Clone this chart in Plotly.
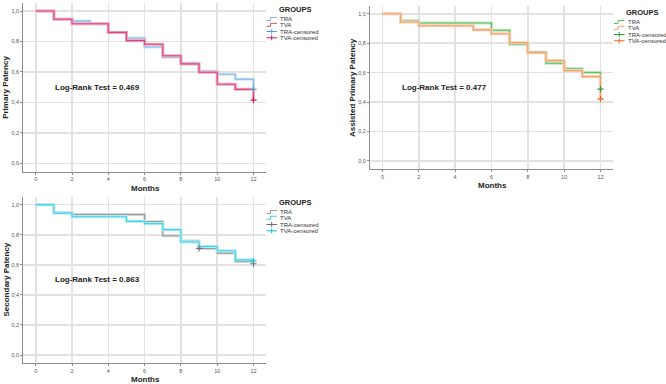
import plotly.graph_objects as go

W, H = 666, 384

months = list(range(13))
tick_months = [0, 2, 4, 6, 8, 10, 12]
tick_y = [0.0, 0.2, 0.4, 0.6, 0.8, 1.0]

# Panel 1: Primary patency
p1_tra = [1.0, 0.950, 0.934, 0.917, 0.857, 0.823, 0.764, 0.697, 0.659, 0.604, 0.585, 0.553, 0.486]
p1_tva = [1.0, 0.946, 0.917, 0.917, 0.860, 0.806, 0.782, 0.707, 0.653, 0.598, 0.519, 0.486, 0.415]
p1_tra_cens_x, p1_tra_cens_y = [12], [0.486]
p1_tva_cens_x, p1_tva_cens_y = [12], [0.415]

# Panel 2: Assisted primary patency
p2_tra = [1.0, 0.953, 0.937, 0.937, 0.937, 0.937, 0.888, 0.793, 0.741, 0.664, 0.626, 0.601, 0.488]
p2_tva = [1.0, 0.944, 0.919, 0.919, 0.919, 0.891, 0.864, 0.804, 0.736, 0.682, 0.614, 0.573, 0.420]
p2_tra_cens_x, p2_tra_cens_y = [12], [0.488]
p2_tva_cens_x, p2_tva_cens_y = [12], [0.420]

# Panel 3: Secondary patency
p3_tra = [1.0, 0.948, 0.935, 0.935, 0.935, 0.935, 0.887, 0.793, 0.758, 0.709, 0.678, 0.622, 0.607]
p3_tva = [1.0, 0.944, 0.920, 0.920, 0.920, 0.889, 0.874, 0.834, 0.752, 0.722, 0.694, 0.633, 0.625]
p3_tra_cens_x, p3_tra_cens_y = [9, 12], [0.709, 0.607]
p3_tva_cens_x, p3_tva_cens_y = [12], [0.625]

y_titles = ["Primary Patency", "Assisted Primary Patency", "Secondary Patency"]
log_rank = ["Log-Rank Test = 0.469", "Log-Rank Test = 0.477", "Log-Rank Test = 0.863"]
legend_labels = ["TRA", "TVA", "TRA-censored", "TVA-censored"]

FONT = "Liberation Sans, Arial, sans-serif"

panels = [
    dict(tra=p1_tra, tva=p1_tva, cx=(p1_tra_cens_x, p1_tra_cens_y), vx=(p1_tva_cens_x, p1_tva_cens_y),
         c_tra="#86b9e6", h_tra="#cfe3f4", m_tra="#5b9bd5",
         c_tva="#d9467c", h_tva="#f2aac4", m_tva="#d01c5c",
         box=(23.3, 3, 266, 171.7), ax="x", ay="y",
         leg=(266.5, 9), ytx=5.5),
    dict(tra=p2_tra, tva=p2_tva, cx=(p2_tra_cens_x, p2_tra_cens_y), vx=(p2_tva_cens_x, p2_tva_cens_y),
         c_tra="#5fbf63", h_tra="#bfe5c0", m_tra="#2e9a3a",
         c_tva="#f2a06a", h_tva="#f9d3b8", m_tva="#e8661a",
         box=(370, 6, 613, 169), ax="x2", ay="y2",
         leg=(614, 12), ytx=352.5),
    dict(tra=p3_tra, tva=p3_tva, cx=(p3_tra_cens_x, p3_tra_cens_y), vx=(p3_tva_cens_x, p3_tva_cens_y),
         c_tra="#9a9a9a", h_tra="#d6d6d6", m_tra="#6e6e6e",
         c_tva="#3fd2e6", h_tva="#b5eef6", m_tva="#14bcd6",
         box=(23.3, 196.7, 266, 363.3), ax="x3", ay="y3",
         leg=(266.5, 202), ytx=5.5),
]

def px(x):
    return x / W

def py(y):
    return 1 - y / H

fig = go.Figure()
annotations = []
shapes = []

for i, p in enumerate(panels):
    xa, ya = p["ax"], p["ay"]
    # halo + core lines
    for vals, c, h in [(p["tra"], p["c_tra"], p["h_tra"]), (p["tva"], p["c_tva"], p["h_tva"])]:
        fig.add_trace(go.Scatter(x=months, y=vals, mode="lines", line=dict(color=h, width=3.0, shape="hv"),
                                 xaxis=xa, yaxis=ya, showlegend=False, hoverinfo="skip"))
        fig.add_trace(go.Scatter(x=months, y=vals, mode="lines", line=dict(color=c, width=1.1, shape="hv"),
                                 xaxis=xa, yaxis=ya, showlegend=False))
    for (cxs, cys), m in [(p["cx"], p["m_tra"]), (p["vx"], p["m_tva"])]:
        fig.add_trace(go.Scatter(x=cxs, y=cys, mode="markers",
                                 marker=dict(symbol="cross-thin", size=4.5, line=dict(color=m, width=1.1)),
                                 xaxis=xa, yaxis=ya, showlegend=False))

    x0, y0, x1, y1 = p["box"]
    n = "" if i == 0 else str(i + 1)
    common_ax = dict(showline=True, linecolor="#8c8c8c", linewidth=1, mirror=False,
                     showgrid=True, gridcolor="#e2e2e2", gridwidth=1.6, zeroline=False,
                     ticks="outside", ticklen=2, tickcolor="#8c8c8c", automargin=False,
                     showspikes=False, fixedrange=True,
                     tickfont=dict(size=5.5, color="#555555", family=FONT))
    fig.update_layout(**{
        "xaxis" + n: dict(domain=[px(x0), px(x1)], range=[-0.685, 12.69], tickvals=tick_months,
                          anchor="y" + n, **common_ax),
        "yaxis" + n: dict(domain=[py(y1), py(y0)], range=[-0.055, 1.053], tickvals=tick_y,
                          tickformat=".1f", anchor="x" + n, **common_ax),
    })

    # Log-rank text
    annotations.append(dict(x=3.4, y=0.5, xref=xa, yref=ya, text="<b>" + log_rank[i] + "</b>",
                            xanchor="center", yanchor="middle",
                            showarrow=False, font=dict(size=8, color="#222222", family=FONT)))
    # axis titles
    annotations.append(dict(x=px((x0 + x1) / 2 + 0.5), y=py(y1 + 16.5), xref="paper", yref="paper",
                            xanchor="center", yanchor="middle",
                            text="<b>Months</b>", showarrow=False,
                            font=dict(size=8, color="#222222", family=FONT)))
    annotations.append(dict(x=px(p["ytx"]), y=py((y0 + y1) / 2), xref="paper", yref="paper",
                            xanchor="center", yanchor="middle",
                            text="<b>" + y_titles[i] + "</b>", showarrow=False, textangle=-90,
                            font=dict(size=8, color="#222222", family=FONT)))

    # Legend (drawn compactly)
    lx, ly = p["leg"]
    annotations.append(dict(x=px(lx + 10), y=py(ly), xref="paper", yref="paper",
                            xanchor="left", yanchor="middle",
                            text="<b>GROUPS</b>", showarrow=False,
                            font=dict(size=7.5, color="#222222", family=FONT)))
    rows = [ly + 10, ly + 15.8, ly + 22.5, ly + 28.8]
    cols = [p["c_tra"], p["c_tva"], p["m_tra"], p["m_tva"]]
    for k, (ry, col) in enumerate(zip(rows, cols)):
        annotations.append(dict(x=px(lx + 11.5), y=py(ry), xref="paper", yref="paper",
                                xanchor="left", yanchor="middle",
                                text=legend_labels[k], showarrow=False,
                                font=dict(size=6, color="#333333", family=FONT)))
        if k < 2:
            path = "M {} {} L {} {} L {} {} L {} {}".format(
                px(lx), py(ry + 1.5), px(lx + 4), py(ry + 1.5), px(lx + 4), py(ry - 1.5), px(lx + 10.5), py(ry - 1.5))
            shapes.append(dict(type="path", path=path, xref="paper", yref="paper",
                               line=dict(color=col, width=1)))
        else:
            shapes.append(dict(type="line", xref="paper", yref="paper", x0=px(lx), x1=px(lx + 10.5),
                               y0=py(ry), y1=py(ry), line=dict(color=col, width=1)))
            shapes.append(dict(type="line", xref="paper", yref="paper", x0=px(lx + 5.2), x1=px(lx + 5.2),
                               y0=py(ry - 2.5), y1=py(ry + 2.5), line=dict(color=col, width=1)))

fig.update_layout(width=W, height=H, margin=dict(l=0, r=0, t=0, b=0, autoexpand=False),
                  paper_bgcolor="white", plot_bgcolor="white", separators=",.",
                  annotations=annotations, shapes=shapes, showlegend=False,
                  hovermode=False, font=dict(family=FONT))

fig.write_html("out.html", config={"displayModeBar": False, "staticPlot": True},
               post_script="document.body.style.margin='0px';document.body.style.padding='0px';")
